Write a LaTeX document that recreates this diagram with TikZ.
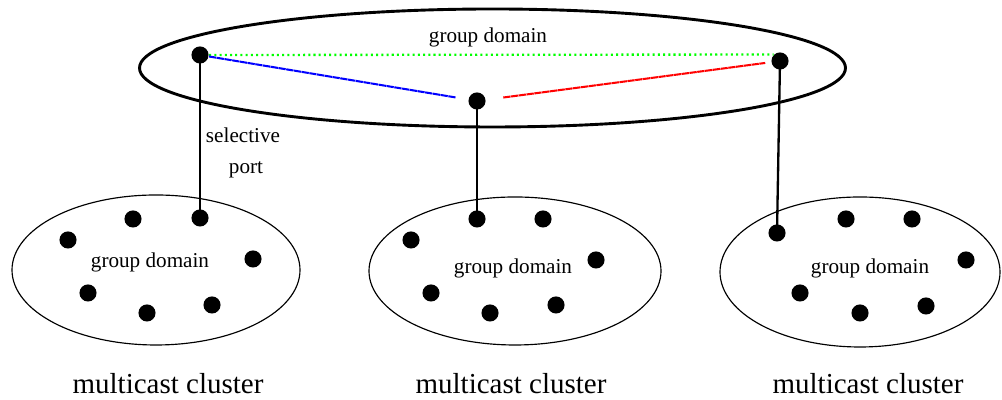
\documentclass[tikz,border=0pt]{standalone}
\usepackage{fontspec}
\setmainfont{Liberation Serif}
\begin{document}
\begin{tikzpicture}[x=0.345pt,y=-0.345pt,
  dot/.style={circle,fill=black,inner sep=0pt,minimum size=5.9pt},
  bigell/.style={draw=black,line width=1pt},
  smallell/.style={draw=black,line width=0.4pt},
  link/.style={line width=0.8pt},
  lbl/.style={font=\fontsize{7.3}{8}\selectfont,inner sep=0pt},
  captxt/.style={font=\fontsize{10}{12}\selectfont,inner sep=0pt}]
\useasboundingbox (0,0) rectangle (1002,400);
% top ellipse
\draw[bigell] (492.5,68) ellipse [x radius=353, y radius=59];
\node[lbl] (tgd) at (488,37) {group domain};
\node[dot] (L) at (200,55) {};
\node[dot] (R) at (780,61) {};
\node[dot] (M) at (477,101) {};
\draw[green, line width=0.8pt, dash pattern=on 0.7pt off 1.1pt] (L.east) -- (R.north west);
\draw[blue, line width=0.7pt, dash pattern=on 2.5pt off 0.2pt, shorten >=4.2pt] (L) -- (M);
\draw[red, line width=0.7pt, dash pattern=on 2.5pt off 0.2pt, shorten <=6pt, shorten >=2pt] (M) -- (R);
% clusters
\draw[smallell] (156,270) ellipse [x radius=144, y radius=75];
\draw[smallell] (515,271) ellipse [x radius=146, y radius=74];
\draw[smallell] (860,272) ellipse [x radius=140, y radius=75];
\node[lbl] (g1) at (150,262) {group domain};
\node[lbl] (g2) at (513,268) {group domain};
\node[lbl] (g3) at (870,268) {group domain};
% cluster 1 dots
\node[dot] (a1) at (133,219) {};
\node[dot] (a2) at (200,218) {};
\node[dot] (a3) at (68,240) {};
\node[dot] (a4) at (253,259) {};
\node[dot] (a5) at (88,293) {};
\node[dot] (a6) at (147,313) {};
\node[dot] (a7) at (212,305) {};
% cluster 2 dots
\node[dot] (b1) at (477,219) {};
\node[dot] (b2) at (543,219) {};
\node[dot] (b3) at (411,240) {};
\node[dot] (b4) at (596,260) {};
\node[dot] (b5) at (431,293) {};
\node[dot] (b6) at (490,313) {};
\node[dot] (b7) at (556,305) {};
% cluster 3 dots
\node[dot] (c1) at (777,233) {};
\node[dot] (c2) at (846,219) {};
\node[dot] (c3) at (912,219) {};
\node[dot] (c4) at (966,260) {};
\node[dot] (c5) at (800,293) {};
\node[dot] (c6) at (860,313) {};
\node[dot] (c7) at (926,306) {};
% vertical links
\draw[link] (L.center) -- (a2.center);
\draw[link] (M.center) -- (b1.center);
\draw[link] (R.center) -- (c1.center);
\node[lbl] (sel) at (243,135) {selective};
\node[lbl] (port) at (246,170) {port};
% captions
\node[captxt] (m1) at (168,384) {multicast cluster};
\node[captxt] (m2) at (511,384) {multicast cluster};
\node[captxt] (m3) at (868,384) {multicast cluster};
\end{tikzpicture}
\end{document}
